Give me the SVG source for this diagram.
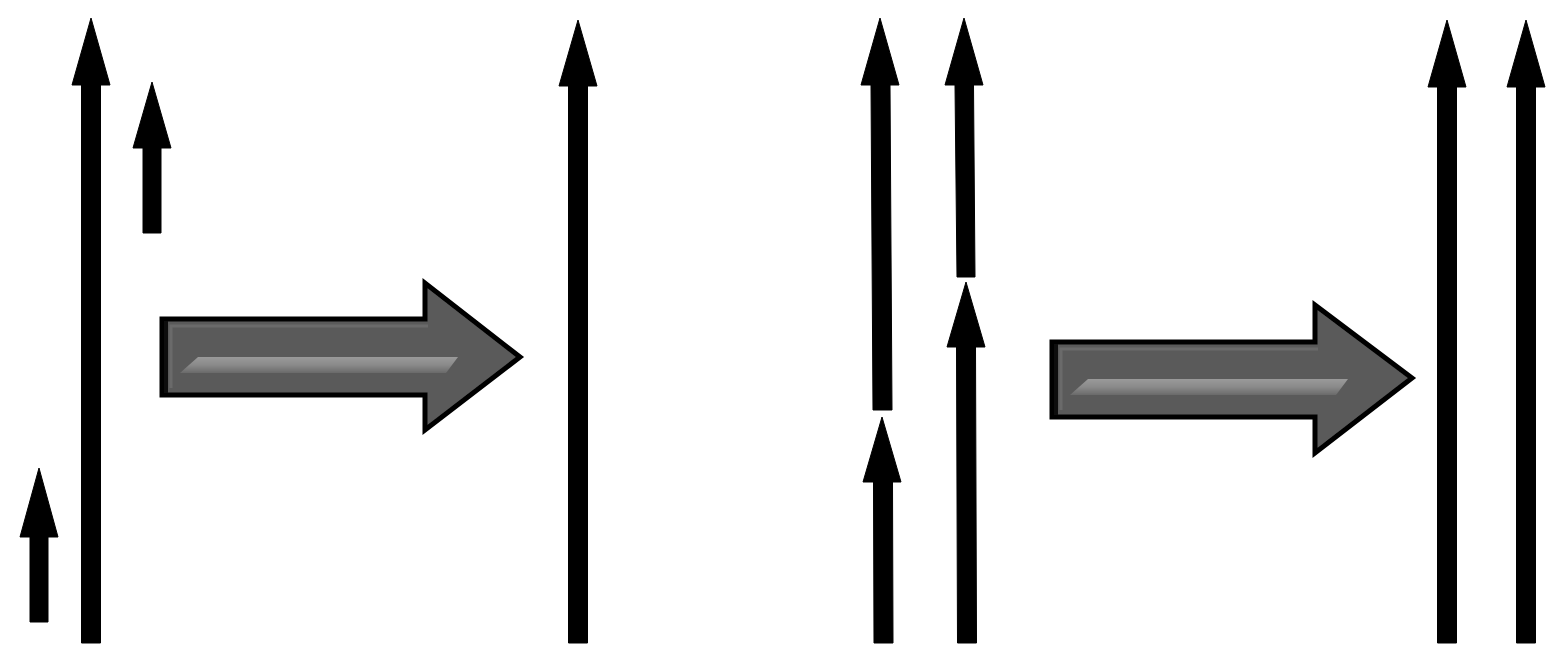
<svg xmlns="http://www.w3.org/2000/svg" width="1559" height="663" viewBox="0 0 1559 663">
  <style>
    .vec { fill: #000; stroke: #000; stroke-width: 1; stroke-linejoin: miter; }
    .big { fill: #5a5a5a; stroke: #000; stroke-width: 5; stroke-linejoin: miter; }
    .shine { fill: url(#shineGrad); }
    .bevel { fill: none; stroke: #111; stroke-width: 4; }
    .bevel2 { fill: none; stroke: #6a6a6a; stroke-width: 3; }
  </style>
  <defs>
    <linearGradient id="shineGrad" x1="0" y1="0" x2="0" y2="1">
      <stop offset="0" stop-color="#9a9a9a"/>
      <stop offset="0.5" stop-color="#8a8a8a"/>
      <stop offset="1" stop-color="#6a6a6a"/>
    </linearGradient>
    <filter id="soft" x="-5%" y="-5%" width="110%" height="110%">
      <feGaussianBlur stdDeviation="0.7"/>
    </filter>
  </defs>
  <rect width="1559" height="663" fill="#fff"/>

  <g id="connectors" filter="url(#soft)">
    <g id="vec-a1"><path class="vec" d="M91,18 L110,85 L100.5,85 L100.5,643 L81.5,643 L81.5,85 L72,85 Z"/></g>
    <g id="vec-a2"><path class="vec" d="M152,82 L171,148 L161,148 L161,233 L143,233 L143,148 L133,148 Z"/></g>
    <g id="vec-a3"><path class="vec" d="M39,468 L58,537 L48,537 L48,622 L30,622 L30,537 L20,537 Z"/></g>
    <g id="vec-b1"><path class="vec" d="M578,20 L597,86 L587.5,86 L587.5,643 L568.5,643 L568.5,86 L559,86 Z"/></g>
    <g id="vec-c1"><path class="vec" d="M880,18 L899,85 L890,85 L892,410 L873,410 L871,85 L861,85 Z"/></g>
    <g id="vec-c2"><path class="vec" d="M882,417 L901,482 L892.5,482 L893,643 L874,643 L873.5,482 L863,482 Z"/></g>
    <g id="vec-c3"><path class="vec" d="M964,18 L983,85 L973.5,85 L975,277 L957,277 L955,85 L945,85 Z"/></g>
    <g id="vec-c4"><path class="vec" d="M966,282 L985,347 L975.5,347 L976.5,643 L957.5,643 L956.5,347 L947,347 Z"/></g>
    <g id="vec-d1"><path class="vec" d="M1447,20 L1466,87 L1456.5,87 L1456.5,643 L1437.5,643 L1437.5,87 L1428,87 Z"/></g>
    <g id="vec-d2"><path class="vec" d="M1526,20 L1545,87 L1535.5,87 L1535.5,643 L1516.5,643 L1516.5,87 L1507,87 Z"/></g>
  </g>

  <g id="big-arrow-1" filter="url(#soft)">
    <path class="big" d="M162,319 L425,319 L425,283 L520,357 L425,430 L425,395 L162,395 Z"/>
    <path class="bevel" d="M166,393 L166,321"/>
    <path class="bevel2" d="M171,388 L171,326 L428,326"/>
    <path class="shine" d="M198,357 L458,357 L446,373 L180,373 Z"/>
  </g>

  <g id="big-arrow-2" filter="url(#soft)">
    <path class="big" d="M1052,342 L1315,342 L1315,305 L1412,378 L1315,453 L1315,417 L1052,417 Z"/>
    <path class="bevel" d="M1056,415 L1056,344"/>
    <path class="bevel2" d="M1061,410 L1061,349 L1318,349"/>
    <path class="shine" d="M1088,379 L1348,379 L1336,395 L1070,395 Z"/>
  </g>
</svg>
